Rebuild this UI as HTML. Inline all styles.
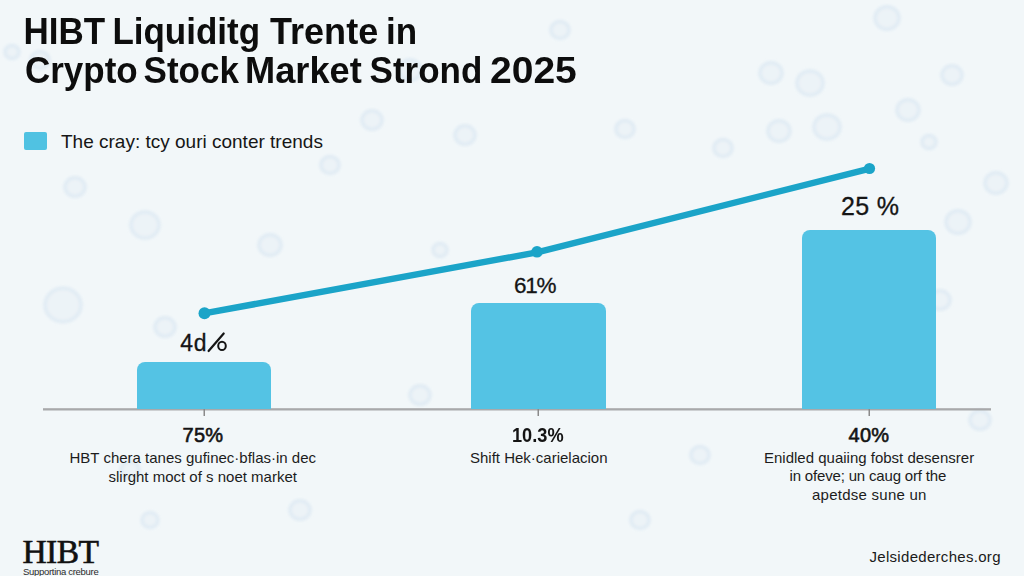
<!DOCTYPE html>
<html>
<head>
<meta charset="utf-8">
<style>
html,body{margin:0;padding:0;}
body{width:1024px;height:576px;overflow:hidden;position:relative;background:#f2f7f9;font-family:"Liberation Sans",sans-serif;color:#111;}
.a{position:absolute;white-space:nowrap;line-height:1;}
.t{font-weight:bold;font-size:35px;color:#0d0d0d;left:24px;transform:scaleY(1.08);transform-origin:0 29.6px;}
.bar{position:absolute;background:#54c3e4;border-radius:8px 8px 0 0;}
.val{font-size:22px;color:#151515;-webkit-text-stroke:0.3px #151515;}
.cat{font-weight:normal;font-size:20px;color:#141414;-webkit-text-stroke:0.6px #141414;}
.d{font-size:15px;color:#1c1c1c;}
</style>
</head>
<body>
<svg class="a" style="left:0;top:0" width="1024" height="576" viewBox="0 0 1024 576">
  <defs><filter id="bl" x="-10%" y="-10%" width="120%" height="120%"><feGaussianBlur stdDeviation="1.6"/></filter></defs>
  <g fill="#ecf3f7" stroke="#dde9f3" stroke-width="3.5" filter="url(#bl)" opacity="0.85">
    <ellipse cx="887" cy="18" rx="12" ry="11.2"/>
    <ellipse cx="771" cy="73" rx="11" ry="10.2"/>
    <ellipse cx="810" cy="83" rx="13" ry="12.1"/>
    <ellipse cx="827" cy="127" rx="13" ry="12.1"/>
    <ellipse cx="625" cy="129" rx="9" ry="8.4"/>
    <ellipse cx="779" cy="131" rx="11" ry="10.2"/>
    <ellipse cx="908" cy="110" rx="11" ry="10.2"/>
    <ellipse cx="952" cy="75" rx="10" ry="9.3"/>
    <ellipse cx="723" cy="148" rx="9" ry="8.4"/>
    <ellipse cx="996" cy="183" rx="11" ry="10.2"/>
    <ellipse cx="958" cy="222" rx="12" ry="11.2"/>
    <ellipse cx="929" cy="142" rx="7" ry="6.5"/>
    <ellipse cx="63" cy="305" rx="18" ry="16.7"/>
    <ellipse cx="145" cy="225" rx="14" ry="13.0"/>
    <ellipse cx="75" cy="187" rx="10" ry="9.3"/>
    <ellipse cx="270" cy="245" rx="11" ry="10.2"/>
    <ellipse cx="165" cy="327" rx="10" ry="9.3"/>
    <ellipse cx="330" cy="165" rx="9" ry="8.4"/>
    <ellipse cx="440" cy="250" rx="7" ry="6.5"/>
    <ellipse cx="410" cy="70" rx="11" ry="10.2"/>
    <ellipse cx="465" cy="135" rx="10" ry="9.3"/>
    <ellipse cx="372" cy="120" rx="10" ry="9.3"/>
    <ellipse cx="130" cy="470" rx="9" ry="8.4"/>
    <ellipse cx="420" cy="395" rx="10" ry="9.3"/>
    <ellipse cx="700" cy="455" rx="9" ry="8.4"/>
    <ellipse cx="940" cy="300" rx="10" ry="9.3"/>
    <ellipse cx="980" cy="420" rx="10" ry="9.3"/>
    <ellipse cx="300" cy="510" rx="10" ry="9.3"/>
    <ellipse cx="640" cy="520" rx="9" ry="8.4"/>
    <ellipse cx="560" cy="30" rx="9" ry="8.4"/>
    <ellipse cx="40" cy="60" rx="9" ry="8.4"/>
    <ellipse cx="150" cy="520" rx="8" ry="7.4"/>
    <ellipse cx="12" cy="52" rx="7" ry="6.5"/>
  </g>
  <!-- axis -->
  <rect x="43" y="408.2" width="948" height="2.3" fill="#a8a9ab"/>
  <rect x="203.5" y="409" width="1.5" height="7" fill="#8a8a8a"/>
  <rect x="537.5" y="409" width="1.5" height="7" fill="#8a8a8a"/>
  <rect x="868.5" y="409" width="1.5" height="7" fill="#8a8a8a"/>
</svg>

<div class="bar" style="left:137px;top:362px;width:134px;height:47px;"></div>
<div class="bar" style="left:471px;top:303px;width:135px;height:106px;"></div>
<div class="bar" style="left:802px;top:230px;width:134px;height:179px;"></div>

<svg class="a" style="left:0;top:0" width="1024" height="576" viewBox="0 0 1024 576">
  <polyline points="204,313.4 537,252.4 869,168.8" fill="none" stroke="#1ba4c8" stroke-width="6.4" stroke-linejoin="round" stroke-linecap="round"/>
  <circle cx="204.5" cy="313.2" r="6" fill="#1ba4c8"/>
  <circle cx="537" cy="251.8" r="5.8" fill="#1ba4c8"/>
  <circle cx="869.5" cy="168.5" r="5.6" fill="#1ba4c8"/>
</svg>

<svg class="a" style="left:0;top:0" width="1024" height="576"><path d="M208.6 351 L223.7 333.5" stroke="#151515" stroke-width="2.2" stroke-linecap="round"/><ellipse cx="222" cy="345.9" rx="3.8" ry="4.1" stroke="#151515" stroke-width="2" fill="none"/></svg>
<div class="a t" style="top:13.5px;left:23.6px;">HIBT</div>
<div class="a t" style="top:13.5px;left:112.4px;">Liquiditg</div>
<div class="a t" style="top:13.5px;left:270.2px;transform:scale(1.03,1.08);">Trente</div>
<div class="a t" style="top:13.5px;left:386px;">in</div>
<div class="a t" style="top:53px;left:24.9px;">Crypto</div>
<div class="a t" style="top:53px;left:143.6px;">Stock</div>
<div class="a t" style="top:53px;left:245.2px;transform:scale(1.035,1.08);">Market</div>
<div class="a t" style="top:53px;left:369.6px;">Strond</div>
<div class="a t" style="top:53px;left:489.8px;transform:scale(1.115,1.08);">2025</div>

<div class="a" style="left:23.5px;top:132px;width:23px;height:17.7px;background:#50c2e2;border-radius:2px;"></div>
<div class="a" style="left:61px;top:132px;font-size:19px;color:#161616;">The cray: tcy ouri conter trends</div>

<div class="a val" style="left:180.2px;top:332px;font-size:23px;letter-spacing:0.8px;-webkit-text-stroke:0.3px #151515;">4d</div>
<div class="a val" style="left:514px;top:274.5px;font-size:22.5px;letter-spacing:-1.3px;">61%</div>
<div class="a val" style="left:841px;top:193.5px;font-size:25px;letter-spacing:0.3px;">25&nbsp;%</div>

<div class="a cat" style="left:182.5px;top:424.5px;letter-spacing:0.3px;">75%</div>
<div class="a cat" style="left:511.5px;top:424.5px;font-weight:bold;-webkit-text-stroke:0;transform:scaleX(0.91);transform-origin:0 0;">10.3%</div>
<div class="a cat" style="left:848.5px;top:424.5px;letter-spacing:0.3px;">40%</div>

<div class="a d" style="left:69.5px;top:449.5px;">HBT chera tanes gufinec·bflas·in dec</div>
<div class="a d" style="left:108.5px;top:468.5px;">slirght moct of s noet market</div>
<div class="a d" style="left:470px;top:449.5px;">Shift Hek·carielacion</div>
<div class="a d" style="left:764px;top:449.5px;">Enidled quaiing fobst desensrer</div>
<div class="a d" style="left:789.5px;top:468px;letter-spacing:-0.17px;">in ofeve; un caug orf the</div>
<div class="a d" style="left:812px;top:486.5px;letter-spacing:0.25px;">apetdse sune un</div>

<div class="a" style="left:22.5px;top:534.5px;font-family:'Liberation Serif',serif;font-size:33.5px;color:#111;-webkit-text-stroke:0.6px #111;letter-spacing:-0.6px;">HIBT</div>
<div class="a" style="left:23px;top:566.5px;font-size:9.5px;color:#2a2a2a;letter-spacing:-0.3px;">Supportina crebure</div>
<div class="a" style="left:869.5px;top:549px;font-size:15px;color:#1a1a1a;letter-spacing:0.3px;">Jelsidederches.org</div>
</body>
</html>
